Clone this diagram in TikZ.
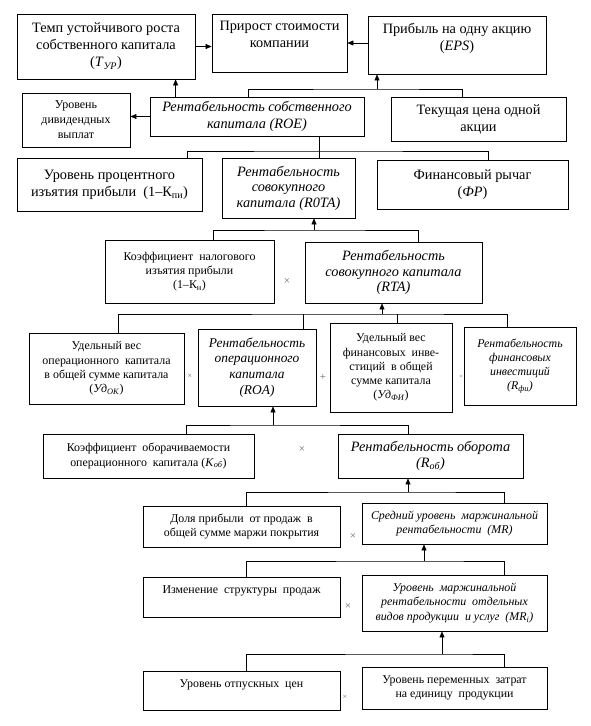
\documentclass[tikz,border=0pt]{standalone}
\usepackage{fontspec}
\setmainfont{Liberation Serif}
\usetikzlibrary{arrows.meta}
\begin{document}
\begin{tikzpicture}[x=1pt,y=-1pt,
  box/.style={draw, line width=0.8pt, align=center, inner sep=1pt},
  big/.style={font=\fontsize{14.3}{17}\selectfont},
  mid/.style={font=\fontsize{14.3}{15.5}\selectfont},
  sm/.style={font=\fontsize{11.9}{14.3}\selectfont},
  arr/.style={-{Triangle[length=6pt,width=5pt]}},
  sign/.style={text=black!60, font=\fontsize{11}{11}\selectfont}]
\useasboundingbox (0,0) rectangle (590,726);
\node[box, big, minimum width=178, minimum height=65] (tur) at (106,46.5){Темп устойчивого роста\\собственного капитала\\(\textit{T}\textsubscript{\textit{УР}})};
\node[box, big, minimum width=135, minimum height=58] (prirost) at (279.5,43){Прирост стоимости\\компании\\\mbox{}};
\node[box, big, minimum width=178, minimum height=58] (eps) at (457,45){Прибыль на одну акцию\\(\textit{EPS})\\\mbox{}};
\node[box, font=\fontsize{12}{15}\selectfont, minimum width=108, minimum height=54] (div) at (76,120){Уровень\\дивидендных\\выплат};
\node[box, big, minimum width=214, minimum height=39] (roe) at (257,116.5){\itshape Рентабельность собственного\\\itshape капитала (ROE)};
\node[box, big, minimum width=175, minimum height=44] (price) at (478.5,119){Текущая цена одной\\акции};
\draw[arr](tur.east) -- (tur.east -| prirost.west);
\draw[arr](eps.west |- prirost) -- (prirost.east);
\draw[arr]([xshift=26]roe.north west) -- ([xshift=26]roe.north west |- tur.south);
\draw[arr](roe.west) -- (roe.west -| div.east);
\coordinate (j1) at (377,89);
\draw[]([xshift=-9]roe.north) |- (j1) -| ([xshift=-16.5]price.north);
\draw[arr](j1) -- (j1 |- eps.south);
\node[box, big, minimum width=185, minimum height=53] (kpi) at (109.5,184.5){Уровень процентного\\изъятия прибыли\ \ (1–К\textsubscript{пи})};
\node[box, mid, minimum width=133, minimum height=60] (rota) at (288.5,188){\itshape Рентабельность\\\itshape совокупного\\\itshape капитала (R0TA)};
\node[box, big, minimum width=191, minimum height=49] (fr) at (472.5,184.5){Финансовый рычаг\\(\textit{ФР})};
\coordinate (j2) at (319,151);
\draw[]([xshift=77.5]kpi.north) |- (j2) -| ([xshift=15.5]fr.north);
\draw[](roe.south -| j2) -- (rota.north -| j2);
\node[box, sm, minimum width=169, minimum height=63] (kn) at (189.5,271.5){Коэффициент\ \ налогового\\изъятия прибыли\\(1–К\textsubscript{н})};
\node[sign] (x1) at (287,282){×};
\node[box, mid, minimum width=177, minimum height=61] (rta) at (393.5,272.5){\itshape Рентабельность\\\itshape совокупного капитала\\\itshape (RTA)};
\coordinate (j3) at (314,230);
\draw[]([xshift=23.5]kn.north) |- (j3) -| ([xshift=24.5]rta.north);
\draw[arr](j3) -- (j3 |- rota.south);
\node[box, sm, minimum width=155, minimum height=71] (udok) at (106.5,368.5){Удельный вес\\операционного\ \ капитала\\в общей сумме капитала\\(\textit{Уд}\textsubscript{\textit{ОК}})};
\node[sign, font=\fontsize{8}{8}\selectfont] (x2) at (190,376){×};
\node[box, font=\fontsize{13.4}{15.8}\selectfont, minimum width=118, minimum height=77] (roa) at (257,367.5){\itshape Рентабельность\\\itshape операционного\\\itshape капитала\\\itshape (ROA)};
\node[sign] (p1) at (323,377){+};
\node[box, sm, minimum width=122, minimum height=89] (udfi) at (391,367.5){Удельный вес\\финансовых\ \ инве-\\стиций\ \ в общей\\сумме капитала\\(\textit{Уд}\textsubscript{\textit{ФИ}})};
\node[sign, font=\fontsize{6}{6}\selectfont] (x3) at (461,377){×};
\node[box, sm, minimum width=112, minimum height=78] (rfi) at (520,366){\itshape Рентабельность\\\itshape финансовых\\\itshape инвестиций\\\itshape (R\textsubscript{фи})};
\coordinate (j4) at (382,314);
\draw[]([xshift=11.5]udok.north) |- (j4) -| ([xshift=-13]rfi.north);
\draw[]([xshift=46]roa.north) -- ([xshift=46]roa.north |- j4);
\draw[]([xshift=6]udfi.north) -- ([xshift=6]udfi.north |- j4);
\draw[arr](j4) -- (j4 |- rta.south);
\node[box, sm, minimum width=211, minimum height=44] (kob) at (148.5,456){Коэффициент\ \ оборачиваемости\\операционного\ \ капитала (\textit{K}\textsubscript{\textit{об}})};
\node[sign] (x4) at (302,450){×};
\node[box, mid, minimum width=185, minimum height=44] (rob) at (430.5,456){\itshape Рентабельность оборота\\\itshape (R\textsubscript{об})};
\coordinate (j5) at (273,425);
\draw[]([xshift=37.5]kob.north) |- (j5) -| ([xshift=-22.5]rob.north);
\draw[arr](j5) -- (j5 |- roa.south);
\node[box, sm, minimum width=197, minimum height=41] (dolya) at (241.5,526.5){Доля прибыли\ \ от продаж\ \ в\\общей сумме маржи покрытия};
\node[sign] (x5) at (353,537){×};
\node[box, sm, minimum width=185, minimum height=41] (mr) at (454.5,523.5){\itshape Средний уровень\ \ маржинальной\\\itshape рентабельности\ \ (MR)};
\coordinate (j6) at (408,492);
\draw[]([xshift=4.5]dolya.north) |- (j6) -| ([xshift=49.5]mr.north);
\draw[arr](j6) -- (j6 |- rob.south);
\node[box, sm, minimum width=197, minimum height=40] (izm) at (241.5,597){Изменение\ \ структуры\ \ продаж\\\mbox{}};
\node[sign] (x6) at (348,607){×};
\node[box, sm, minimum width=185, minimum height=56] (mri) at (454.5,603){\itshape Уровень\ \ маржинальной\\\itshape рентабельности\ \ отдельных\\\itshape видов продукции\ \ и услуг\ \ (MR\textsubscript{i})};
\coordinate (j7) at (424,561);
\draw[]([xshift=4.5]izm.north) |- (j7) -| ([xshift=49.5]mri.north);
\draw[arr](j7) -- (j7 |- mr.south);
\node[box, sm, minimum width=197, minimum height=39] (cen) at (241.5,690.5){Уровень\ отпускных\ \ цен\\\mbox{}};
\node[sign, font=\fontsize{8}{8}\selectfont] (x7) at (345,697){×};
\node[box, sm, minimum width=185, minimum height=42] (zatr) at (454.5,688){Уровень переменных\ \ затрат\\на единицу\ \ продукции};
\coordinate (j8) at (442,654);
\draw[]([xshift=4.5]cen.north) |- (j8) -| ([xshift=49.5]zatr.north);
\draw[arr](j8) -- (j8 |- mri.south);
\end{tikzpicture}
\end{document}
